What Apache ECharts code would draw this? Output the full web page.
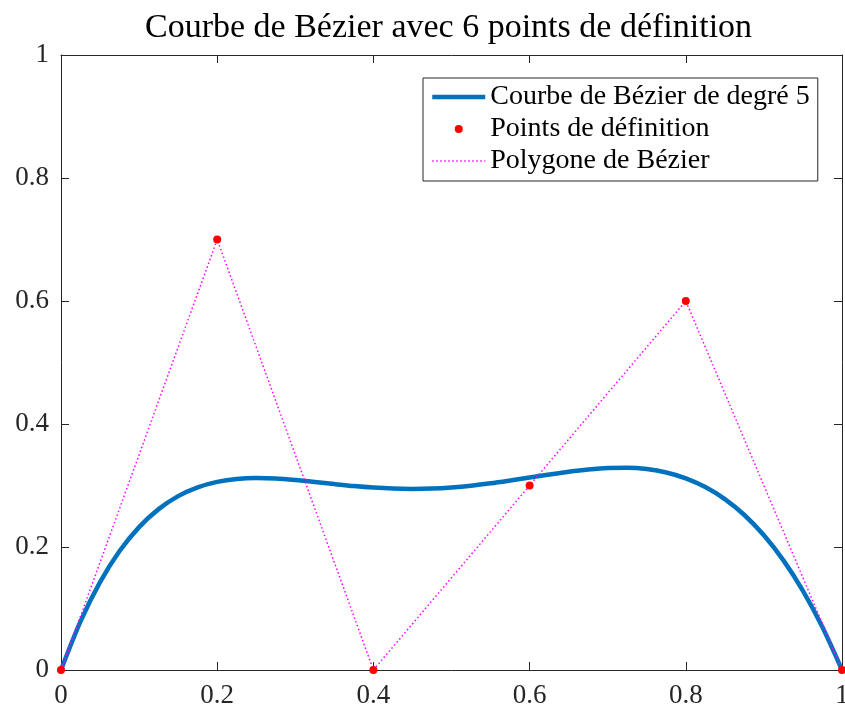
<!DOCTYPE html>
<html>
<head>
<meta charset="utf-8">
<script src="https://cdn.jsdelivr.net/npm/echarts@6/dist/echarts.min.js"></script>
<style>
  html, body { margin: 0; padding: 0; background: #fff; }
  #chart { width: 845px; height: 709px; }
</style>
</head>
<body>
<div id="chart"></div>
<script>
// points de définition (polygone de contrôle)
const ctrlX = [0, 0.2, 0.4, 0.6, 0.8, 1];
const ctrlY = [0, 0.7, 0, 0.3, 0.6, 0];

// courbe
const curveX = [0, 0.025, 0.05, 0.075, 0.1, 0.125, 0.15, 0.175, 0.2, 0.225, 0.25, 0.275,
  0.3, 0.325, 0.35, 0.375, 0.4, 0.425, 0.45, 0.475, 0.5, 0.525, 0.55, 0.575,
  0.6, 0.625, 0.65, 0.675, 0.7, 0.725, 0.75, 0.775, 0.8, 0.825, 0.85, 0.875,
  0.9, 0.925, 0.95, 0.975, 1];
const curveY = [0, 0.0791, 0.1429, 0.1934, 0.2323, 0.2616, 0.2827, 0.2970, 0.3059, 0.3106, 0.3120, 0.3112,
  0.3088, 0.3057, 0.3023, 0.2991, 0.2966, 0.2950, 0.2945, 0.2951, 0.2969, 0.2997, 0.3035, 0.3081,
  0.3130, 0.3179, 0.3225, 0.3262, 0.3286, 0.3289, 0.3267, 0.3212, 0.3117, 0.2975, 0.2779, 0.2520,
  0.2190, 0.1782, 0.1286, 0.0695, 0];

const xTickLabels = ["0", "0.2", "0.4", "0.6", "0.8", "1"];
const yTickLabels = ["0", "0.2", "0.4", "0.6", "0.8", "1"];

const serif = "'Liberation Serif', 'DejaVu Serif', serif";
const axisColor = "#262626";

function axis(pos, labels, showLabel) {
  return {
    type: "value",
    position: pos,
    min: 0,
    max: 1,
    interval: 0.2,
    axisLine: { show: true, onZero: false, lineStyle: { color: axisColor, width: 1 } },
    axisTick: { show: true, inside: true, length: 8, lineStyle: { color: axisColor } },
    splitLine: { show: false },
    axisLabel: {
      show: showLabel,
      showMinLabel: true,
      showMaxLabel: true,
      margin: 12,
      color: axisColor,
      fontFamily: serif,
      fontSize: 27,
      formatter: function (v) {
        return labels[Math.round(v / 0.2)];
      }
    }
  };
}

const chart = echarts.init(document.getElementById("chart"));
chart.setOption({
  backgroundColor: "#fff",
  animation: false,
  title: {
    text: "Courbe de Bézier avec 6 points de définition",
    left: 145,
    top: 11,
    padding: 0,
    textStyle: { fontFamily: serif, fontSize: 34, fontWeight: "normal", color: "#000" }
  },
  grid: { left: 61, right: 3, top: 55, bottom: 39, containLabel: false, outerBoundsMode: "none" },
  legend: {
    orient: "vertical",
    left: 423,
    top: 78,
    padding: [5, 8, 6, 7],
    itemGap: 4,
    itemWidth: 53,
    itemHeight: 8,
    borderColor: axisColor,
    borderWidth: 1,
    backgroundColor: "#fff",
    textStyle: { fontFamily: serif, fontSize: 28, lineHeight: 24, color: "#000" },
    data: [
      { name: "Courbe de Bézier de degré 5", itemStyle: { opacity: 0 },
        lineStyle: { color: "#0072BD", width: 4.5 } },
      { name: "Points de définition" },
      { name: "Polygone de Bézier", itemStyle: { opacity: 0 },
        lineStyle: { color: "#ff00ff", width: 1.5, type: [1.5, 2.5] } }
    ]
  },
  xAxis: [axis("bottom", xTickLabels, true), axis("top", xTickLabels, false)],
  yAxis: [axis("left", yTickLabels, true), axis("right", yTickLabels, false)],
  series: [
    {
      name: "Courbe de Bézier de degré 5",
      type: "line",
      smooth: 0.3,
      symbol: "none",
      lineStyle: { color: "#0072BD", width: 4.5 },
      itemStyle: { color: "#0072BD" },
      data: curveX.map((x, i) => [x, curveY[i]]),
      z: 2
    },
    {
      name: "Points de définition",
      type: "scatter",
      symbol: "circle",
      symbolSize: 8,
      itemStyle: { color: "#ff0000", opacity: 1 },
      data: ctrlX.map((x, i) => [x, ctrlY[i]]),
      z: 4
    },
    {
      name: "Polygone de Bézier",
      type: "line",
      symbol: "none",
      lineStyle: { color: "#ff00ff", width: 1.5, type: [1.5, 2.5] },
      itemStyle: { color: "#ff00ff" },
      data: ctrlX.map((x, i) => [x, ctrlY[i]]),
      z: 3
    }
  ]
});
</script>
</body>
</html>
